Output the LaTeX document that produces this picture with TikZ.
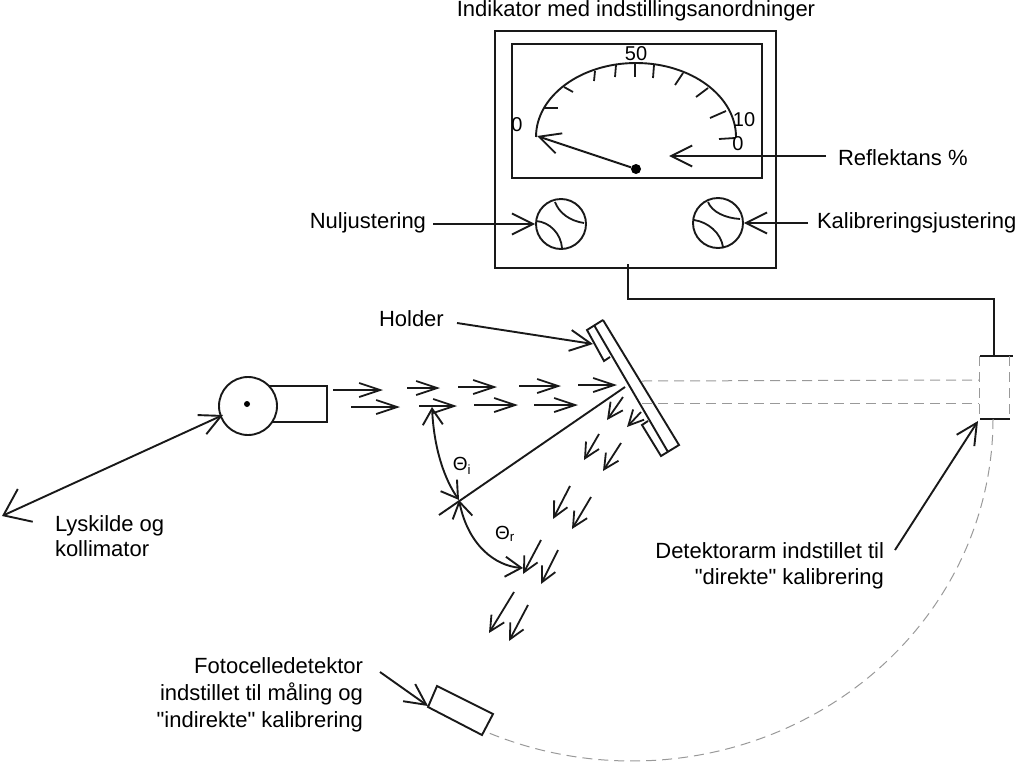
\documentclass[tikz,border=0pt]{standalone}
\usepackage{fontspec}
\setmainfont[Ligatures=TeXOff]{Liberation Sans}
\usetikzlibrary{arrows.meta}

\begin{document}
\begin{tikzpicture}[
  x=1pt,y=-1pt,
  font=\fontsize{22}{25.5}\selectfont,
  label/.style={inner sep=0pt,outer sep=0pt,align=left},
  scalenum/.style={inner sep=0pt,font=\fontsize{20}{22}\selectfont},
  thetalabel/.style={inner sep=0pt,font=\fontsize{19}{20}\selectfont},
  line/.style={line width=1.9pt,black!90},
  tick/.style={line width=1.8pt,black!90},
  ghost/.style={line width=1pt,black!40,dash pattern=on 10pt off 6pt},
  knob/.style={circle,draw=black!90,line width=1.9pt,minimum size=50pt,inner sep=0pt},
  pointer/.style={line,-{Straight Barb[length=21pt,width=21pt]}},
  bigpointer/.style={line,{Straight Barb[length=24pt,width=36pt]}-{Straight Barb[length=21pt,width=21pt]}},
  angle/.style={line,{Straight Barb[length=16pt,width=20pt]}-{Straight Barb[length=16pt,width=20pt]}},
  beam/.style={line width=1.8pt,black!90,-{Straight Barb[length=21pt,width=14pt]}},
  refl/.style={line width=1.8pt,black!90,-{Straight Barb[length=15pt,width=15pt]}},
]
\useasboundingbox (0,0) rectangle (1017,763);

% ---- indicator ----
\node[label,anchor=base] (title) at (636,16.5) {Indikator med indstillingsanordninger};
\draw[line] (495,31) rectangle (776,268);
\draw[line] (512,44) rectangle (762,178);
\draw[line] (536,137) arc[start angle=180,end angle=360,x radius=100,y radius=74];
\foreach \xa/\ya/\xb/\yb in {635/63/635/77,616/65/615/77,595/71/594/81,564/87/573/92,544/108/558/108,
    654/65/653/78,683/73/675/85,708/88/696/97,726/111/710/118,735/138/719/139}
  \draw[tick] (\xa,\ya) -- (\xb,\yb);
\node[scalenum] (zero) at (517,125) {0};
\node[scalenum] (fifty) at (636,54) {50};
\node[scalenum] (ten) at (744,120) {10};
\node[scalenum] (zerob) at (738,144) {0};

\coordinate (needletip) at (537,136);
\node[circle,fill=black,minimum size=10pt,inner sep=0pt] (pivot) at (636,169) {};
\draw[pointer] (pivot) -- (needletip);

\node[knob] (knobleft) at (561,224) {};
\node[knob] (knobright) at (718,223) {};
\draw[tick] (555,202) .. controls (559,213) and (570,221) .. (584,223);
\draw[tick] (536,221) .. controls (550,222) and (561,234) .. (562,248);
\draw[tick] (708,202) .. controls (712,212) and (725,218) .. (740,219);
\draw[tick] (694,220) .. controls (708,222) and (721,233) .. (723,247);

% ---- labels at the indicator ----
\node[label,anchor=west] (reflektans) at (838,158) {Reflektans \%};
\coordinate (reflektanstip) at (669,156);
\draw[pointer] (826,156) coordinate (reflektansend) -- (reflektanstip);
\node[label,anchor=east] (nul) at (426,223) {Nuljustering};
\draw[pointer] (433,224) coordinate (nulend) -- (knobleft.west);
\node[label,anchor=west] (kal) at (817,223) {Kalibreringsjustering};
\draw[pointer] (808,223) coordinate (kalend) -- (knobright.east);

% ---- cable to detector ----
\coordinate (detcap) at (994,356);
\draw[line] (628,264) -- (628,299) -- (994,299) -- (detcap);
\draw[line] (980,356) -- (1013,356);
\draw[line] (980,419) -- (1010,419);
\draw[ghost] (979,356) -- (979,419);
\draw[ghost] (1009,356) -- (1009,419);
\draw[ghost] (642,381) -- (979,380);
\draw[ghost] (642,403) -- (979,403);
\draw[ghost] (993,419) arc[start angle=0,end angle=114,x radius=361,y radius=342];

% ---- source ----
\draw[line] (248,386) -- (327,386) -- (327,422) -- (248,422);
\node[circle,draw=black!90,fill=white,line width=1.9pt,minimum size=58pt,inner sep=0pt] (lamp) at (248,406) {};
\fill[black] (247,404) circle[radius=3];
\node[label,anchor=north west,font=\fontsize{22}{25}\selectfont] (lyskilde) at (55,516) {Lyskilde og\\kollimator};
\coordinate (lyskildefar) at (2,516);
\coordinate (lyskildetip) at (223,415);
\draw[bigpointer] (lyskildefar) -- (lyskildetip);

% ---- beam ----
\foreach \xa/\xb/\ya in {333/383/390,407/440/388,458/497/387,519/561/386,578/617/385,
    351/400/407,419/457/406,474/518/405,534/578/405}
  \draw[beam] (\xa,\ya) -- (\xb,\ya);

% ---- sample ----
\draw[line] (603,320) -- (679,445) -- (661,456) -- (642,425) -- (648,421);
\draw[line] (603,320) -- (587,330) -- (604,361) -- (610,357);
\draw[line] (594,325) -- (668,452);
\node[label,anchor=west] (holder) at (379,319) {Holder};
\coordinate (holdertip) at (593,344);
\draw[pointer] (457,323) coordinate (holderend) -- (holdertip);

% ---- normal and angles ----
\coordinate (star) at (459,500);
\draw[line] (439,515) -- (625,387);
\draw[angle] (432,407) .. controls (434,450) and (445,480) .. (star);
\draw[angle] (star) .. controls (468,545) and (495,566) .. (523,568);
\node[thetalabel] (thetai) at (462,466) {Θ\textsubscript{i}};
\node[thetalabel] (thetar) at (505,534) {Θ\textsubscript{r}};

% ---- reflected rays ----
\foreach \xa/\ya/\xb/\yb in {623/397/607/420,641/412/627/427,599/434/584/460,621/443/603/471,
    570/486/553/519,591/497/572/529,541/540/523/574,558/550/541/584,514/592/489/633,528/605/509/641}
  \draw[refl] (\xa,\ya) -- (\xb,\yb);

% ---- detector labels ----
\node[label,anchor=north east,align=right,font=\fontsize{22}{26}\selectfont] (arm) at (884,543) {Detektorarm indstillet til\\"direkte" kalibrering};
\coordinate (armtip) at (978,421);
\draw[pointer] (895,550) coordinate (armend) -- (armtip);

\node[label,anchor=north east,align=right,font=\fontsize{22}{27}\selectfont] (foto) at (363,658) {Fotocelledetektor\\indstillet til måling og\\"indirekte" kalibrering};
\draw[line,fill=white] (437,686) -- (493,714) -- (482,735) -- (428,707) -- cycle;
\coordinate (fototip) at (428,706);
\draw[pointer] (380,672) coordinate (fotoend) -- (fototip);
\end{tikzpicture}
\end{document}
